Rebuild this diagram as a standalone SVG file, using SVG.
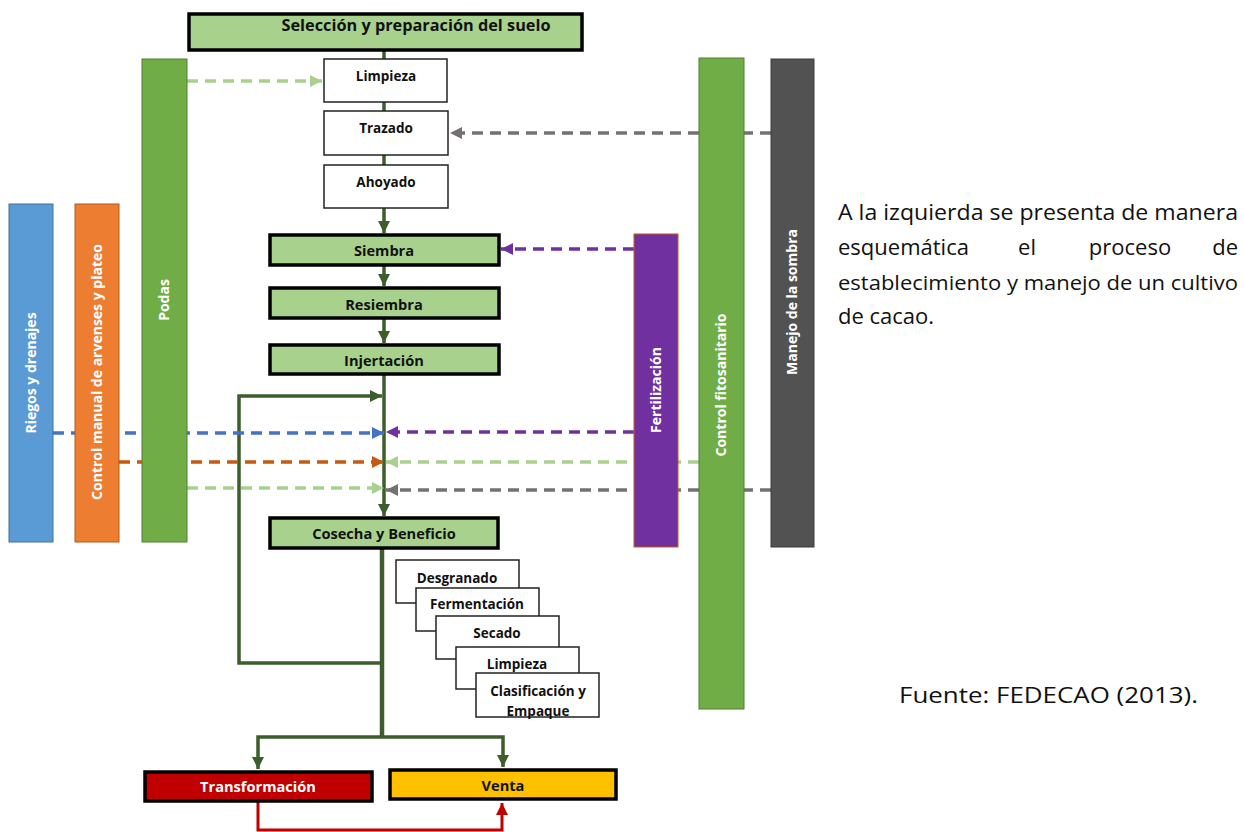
<svg xmlns="http://www.w3.org/2000/svg" width="1244" height="832" viewBox="0 0 1244 832">
<style>
.bx{stroke:#000;stroke-width:3.5}
.wb{fill:#fff;stroke:#222;stroke-width:1.5}
.gn{fill:#a9d18e}
.t{font-family:"Open Sans","Liberation Sans",sans-serif;font-weight:bold;font-size:13.5px;fill:#111;text-anchor:middle}
.g{font-size:14.6px}
.s{font-size:13.5px}
.tw{font-family:"Open Sans","Liberation Sans",sans-serif;font-weight:bold;font-size:14px;fill:#fff;text-anchor:middle}
.p{font-family:"Open Sans","Liberation Sans",sans-serif;font-size:22px;fill:#111}
.main{fill:none;stroke:#3b5e2b;stroke-width:3.5}
.d{fill:none;stroke-width:3.5;stroke-dasharray:11 7}
</style>
<defs>
<marker id="ag" markerUnits="userSpaceOnUse" markerWidth="14" markerHeight="14" refX="12" refY="6" orient="auto"><path d="M0,0 L12,6 L0,12 Z" fill="#3b5e2b"/></marker>
<marker id="ab" markerUnits="userSpaceOnUse" markerWidth="14" markerHeight="14" refX="12" refY="6" orient="auto"><path d="M0,0 L12,6 L0,12 Z" fill="#4472c4"/></marker>
<marker id="ao" markerUnits="userSpaceOnUse" markerWidth="14" markerHeight="14" refX="12" refY="6" orient="auto"><path d="M0,0 L12,6 L0,12 Z" fill="#c55a11"/></marker>
<marker id="al" markerUnits="userSpaceOnUse" markerWidth="14" markerHeight="14" refX="12" refY="6" orient="auto"><path d="M0,0 L12,6 L0,12 Z" fill="#a9d18e"/></marker>
<marker id="ap" markerUnits="userSpaceOnUse" markerWidth="14" markerHeight="14" refX="12" refY="6" orient="auto"><path d="M0,0 L12,6 L0,12 Z" fill="#7030a0"/></marker>
<marker id="ay" markerUnits="userSpaceOnUse" markerWidth="14" markerHeight="14" refX="12" refY="6" orient="auto"><path d="M0,0 L12,6 L0,12 Z" fill="#767171"/></marker>
<marker id="ar" markerUnits="userSpaceOnUse" markerWidth="14" markerHeight="14" refX="12" refY="6" orient="auto"><path d="M0,0 L12,6 L0,12 Z" fill="#c00000"/></marker>
</defs>

<g id="connectors">
<path class="main" d="M384 50 V59 M384 102 V111 M384 155 V165"/>
<path class="main" d="M384 208 V233" marker-end="url(#ag)"/>
<path class="main" d="M384 265 V286" marker-end="url(#ag)"/>
<path class="main" d="M384 318 V343" marker-end="url(#ag)"/>
<path class="main" d="M384 374 V516" marker-end="url(#ag)"/>
<path class="main" d="M384 663 H239 V396 H382" marker-end="url(#ag)"/>
<path class="main" style="stroke-width:4.5" d="M382 549 V737"/>
<path class="main" d="M382 737 H258 V769" marker-end="url(#ag)"/>
<path class="main" d="M382 737 H503 V767" marker-end="url(#ag)"/>
<path fill="none" stroke="#c00000" stroke-width="3" d="M258 802 V830 H502 V803" marker-end="url(#ar)"/>
<path class="d" stroke="#a9d18e" d="M187 81 H322" marker-end="url(#al)"/>
<path class="d" stroke="#767171" d="M771 133 H450" marker-end="url(#ay)"/>
<path class="d" stroke="#7030a0" d="M634 249 H501" marker-end="url(#ap)"/>
<path class="d" stroke="#4472c4" d="M53 433 H384" marker-end="url(#ab)"/>
<path class="d" stroke="#c55a11" d="M119 462 H384" marker-end="url(#ao)"/>
<path class="d" stroke="#a9d18e" d="M187 488 H384" marker-end="url(#al)"/>
<path class="d" stroke="#7030a0" d="M634 432 H386" marker-end="url(#ap)"/>
<path class="d" stroke="#a9d18e" d="M699 462 H386" marker-end="url(#al)"/>
<path class="d" stroke="#767171" d="M771 490 H386" marker-end="url(#ay)"/>
</g>

<g id="n-seleccion"><rect class="bx gn" x="189" y="14" width="393" height="36"/><text class="t" x="416" y="31" style="font-size:15.5px" textLength="269" lengthAdjust="spacingAndGlyphs">Selección y  preparación del suelo</text></g>
<g id="n-limpieza"><rect class="wb" x="324" y="59" width="123" height="43"/><text class="t" x="386" y="81">Limpieza</text></g>
<g id="n-trazado"><rect class="wb" x="324" y="111" width="124" height="44"/><text class="t" x="386" y="133">Trazado</text></g>
<g id="n-ahoyado"><rect class="wb" x="324" y="165" width="124" height="43"/><text class="t" x="386" y="187">Ahoyado</text></g>
<g id="n-siembra"><rect class="bx gn" x="270" y="235" width="229" height="30"/><text class="t g" x="384" y="256">Siembra</text></g>
<g id="n-resiembra"><rect class="bx gn" x="270" y="288" width="229" height="30"/><text class="t g" x="384" y="310">Resiembra</text></g>
<g id="n-injertacion"><rect class="bx gn" x="270" y="345" width="229" height="29"/><text class="t g" x="384" y="366">Injertación</text></g>
<g id="n-cosecha"><rect class="bx gn" x="270" y="518" width="228" height="30"/><text class="t g" x="384" y="539">Cosecha y Beneficio</text></g>

<g id="n-desgranado"><rect class="wb" x="396" y="560" width="123" height="43"/><text class="t s" x="457" y="583">Desgranado</text></g>
<g id="n-fermentacion"><rect class="wb" x="416" y="588" width="123" height="43"/><text class="t s" x="477" y="609">Fermentación</text></g>
<g id="n-secado"><rect class="wb" x="436" y="616" width="123" height="43"/><text class="t s" x="497" y="638">Secado</text></g>
<g id="n-limpieza2"><rect class="wb" x="456" y="647" width="123" height="42"/><text class="t s" x="517" y="669">Limpieza</text></g>
<g id="n-clasificacion"><rect class="wb" x="476" y="673" width="123" height="44"/><text class="t s" x="538" y="696">Clasificación y</text><text class="t s" x="538" y="716">Empaque</text></g>

<g id="n-transformacion"><rect class="bx" fill="#c00000" x="145" y="772" width="227" height="29"/><text class="tw" x="258" y="792" style="font-size:14.6px">Transformación</text></g>
<g id="n-venta"><rect class="bx" fill="#ffc000" x="390" y="770" width="226" height="29"/><text class="t g" x="503" y="791">Venta</text></g>

<g id="n-riegos"><rect x="9" y="204" width="44" height="338" fill="#5b9bd5" stroke="#41719c" stroke-width="1"/><text class="tw" transform="translate(36 373) rotate(-90)">Riegos y drenajes</text></g>
<g id="n-arvenses"><rect x="75" y="204" width="44" height="338" fill="#ed7d31" stroke="#ae5a21" stroke-width="1"/><text class="tw" transform="translate(102 372) rotate(-90)">Control manual de arvenses y plateo</text></g>
<g id="n-podas"><rect x="142" y="59" width="45" height="483" fill="#70ad47" stroke="#507e32" stroke-width="1"/><text class="tw" transform="translate(169 300) rotate(-90)">Podas</text></g>
<g id="n-fertilizacion"><rect x="634" y="234" width="44" height="313" fill="#7030a0" stroke="#c55a11" stroke-width="1"/><text class="tw" transform="translate(661 390) rotate(-90)">Fertilización</text></g>
<g id="n-fitosanitario"><rect x="699" y="58" width="45" height="651" fill="#70ad47" stroke="#507e32" stroke-width="1"/><text class="tw" transform="translate(726 385) rotate(-90)">Control fitosanitario</text></g>
<g id="n-sombra"><rect x="771" y="59" width="43" height="488" fill="#525252" stroke="#3a3a3a" stroke-width="1"/><text class="tw" transform="translate(797 302) rotate(-90)">Manejo de la sombra</text></g>

<g id="caption">
<text class="p" x="838" y="220" textLength="400" lengthAdjust="spacingAndGlyphs">A la izquierda se presenta de manera</text>
<text class="p" x="838" y="255">esquemática</text>
<text class="p" x="1027" y="255" text-anchor="middle">el</text>
<text class="p" x="1130" y="255" text-anchor="middle">proceso</text>
<text class="p" x="1238" y="255" text-anchor="end">de</text>
<text class="p" x="838" y="290" style="font-size:20.5px" textLength="400" lengthAdjust="spacingAndGlyphs">establecimiento y manejo de un cultivo</text>
<text class="p" x="838" y="324">de cacao.</text>
<text class="p" x="899" y="703" textLength="299" lengthAdjust="spacingAndGlyphs">Fuente: FEDECAO (2013).</text>
</g>
</svg>
